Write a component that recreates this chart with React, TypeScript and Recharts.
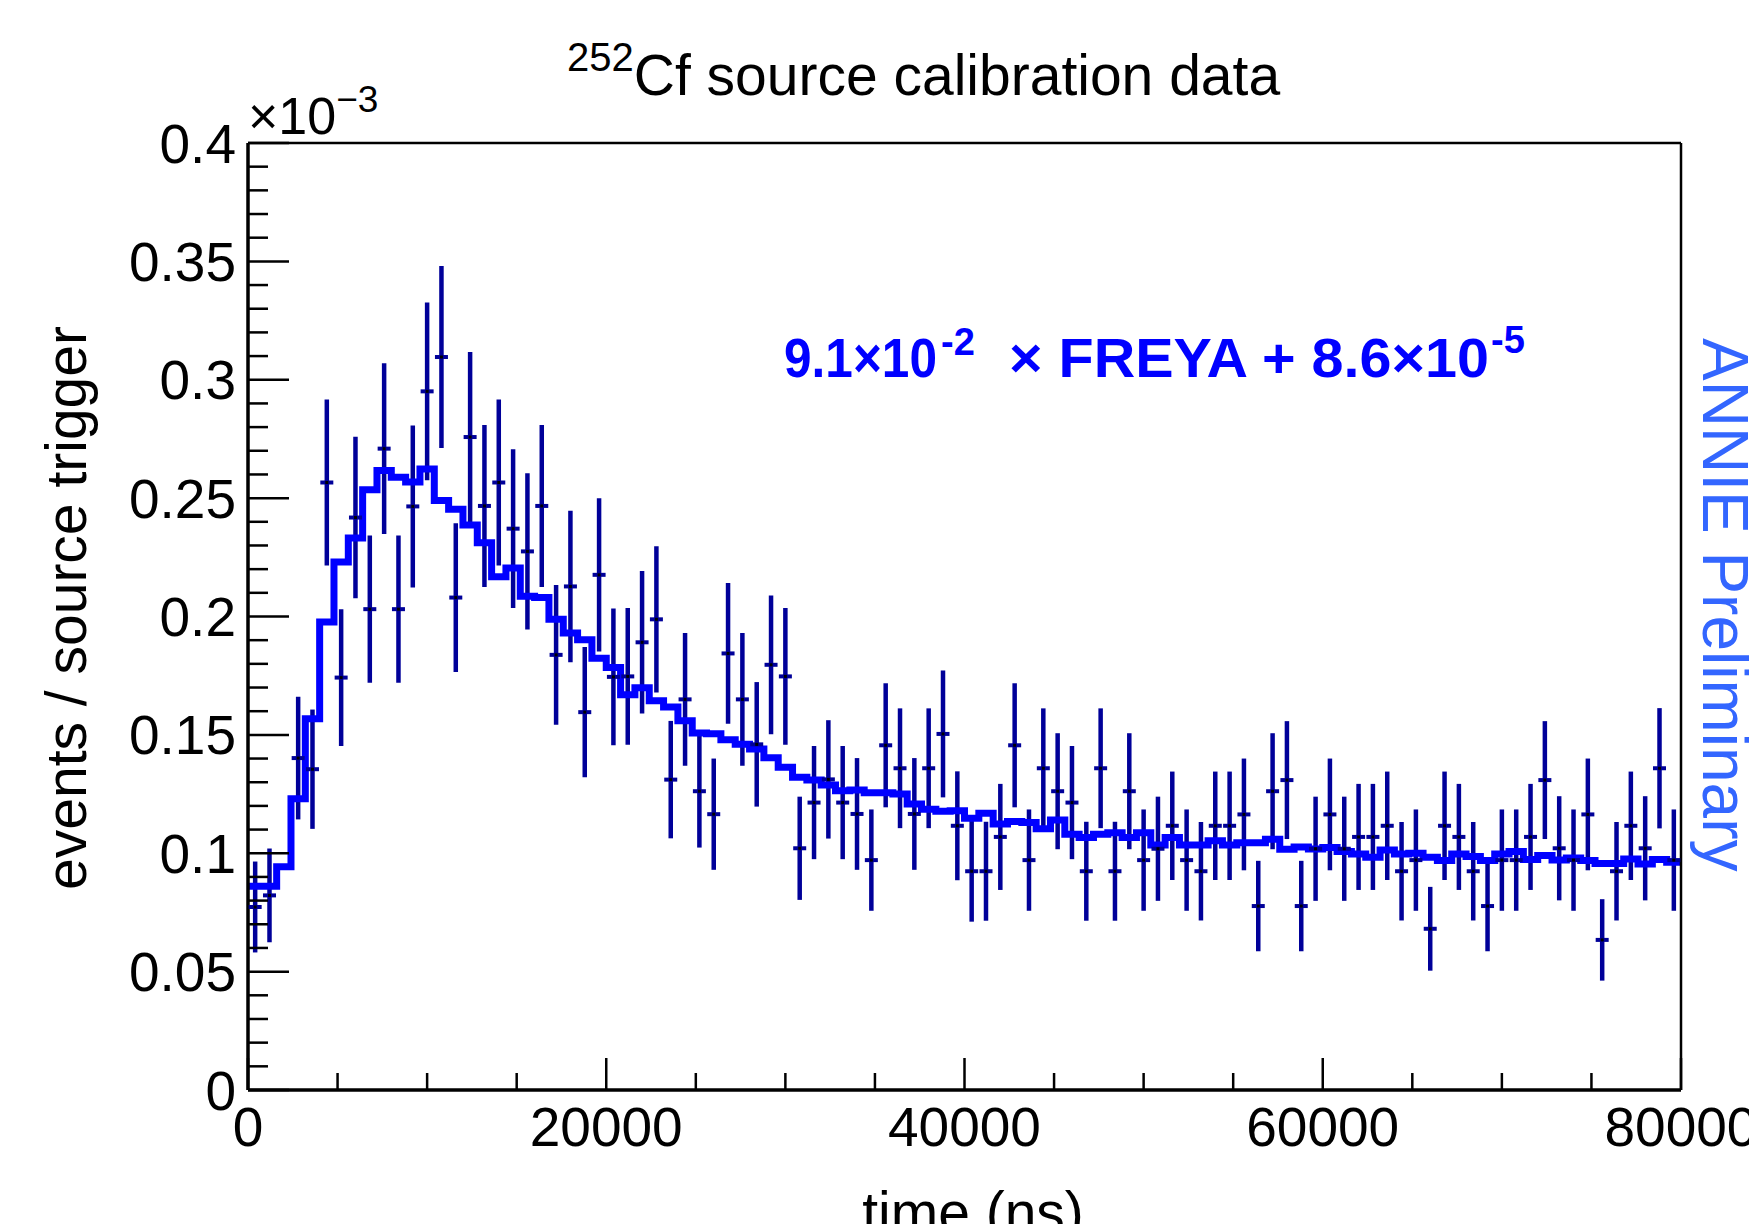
import { ComposedChart, Line, Scatter, XAxis, YAxis, ErrorBar } from "recharts";

const FONT = "'Liberation Sans', Arial, Helvetica, sans-serif";
const BIN_WIDTH = 800;

// FREYA fit (x10^-3), one value per 800 ns bin
const fitValues = [
  0.0861, 0.0861, 0.0943, 0.123, 0.1568, 0.1977, 0.223, 0.2332, 0.2535, 0.2617,
  0.2588, 0.2568, 0.2623, 0.249, 0.2453, 0.2387, 0.2311, 0.2168, 0.2205, 0.2086,
  0.208, 0.1988, 0.193, 0.1902, 0.1824, 0.1785, 0.167, 0.1699, 0.1644, 0.1618,
  0.156, 0.1508, 0.1505, 0.1479, 0.146, 0.144, 0.1403, 0.1363, 0.1321, 0.1309,
  0.1288, 0.1264, 0.1267, 0.1256, 0.1256, 0.125, 0.1208, 0.1186, 0.1177, 0.118,
  0.1148, 0.1169, 0.1124, 0.1134, 0.113, 0.1104, 0.114, 0.108, 0.1067, 0.108,
  0.1087, 0.1067, 0.1087, 0.1035, 0.1067, 0.1035, 0.1035, 0.1053, 0.1035, 0.1044,
  0.1044, 0.1059, 0.1017, 0.1026, 0.1018, 0.1024, 0.1007, 0.0997, 0.0983, 0.1014,
  0.0997, 0.1, 0.0983, 0.0969, 0.0997, 0.0986, 0.0969, 0.0997, 0.1007, 0.0974,
  0.0991, 0.0971, 0.098, 0.0969, 0.0957, 0.0957, 0.0976, 0.0955, 0.0974, 0.0962,
];

// measured data (x10^-3), bin 2 has no point
const dataValues: (number | null)[] = [
  0.0773, 0.0822, null, 0.1402, 0.1355, 0.2566, 0.1742, 0.2418, 0.2031, 0.2709,
  0.2031, 0.2465, 0.2951, 0.3096, 0.208, 0.2758, 0.2467, 0.2566, 0.2371, 0.2275,
  0.2467, 0.1838, 0.2127, 0.1596, 0.2176, 0.1745, 0.1747, 0.1891, 0.1988, 0.1311,
  0.165, 0.1262, 0.1165, 0.1844, 0.165, 0.146, 0.1796, 0.1747, 0.1021, 0.1214,
  0.1312, 0.1214, 0.1166, 0.0971, 0.1456, 0.1359, 0.1166, 0.1359, 0.1504, 0.1116,
  0.0924, 0.0924, 0.1069, 0.1456, 0.0971, 0.1359, 0.1262, 0.1214, 0.0924, 0.1359,
  0.0924, 0.1262, 0.0971, 0.1019, 0.1116, 0.0971, 0.0924, 0.1116, 0.1116, 0.1164,
  0.0777, 0.1262, 0.1309, 0.0777, 0.1019, 0.1164, 0.1019, 0.1069, 0.1069, 0.1116,
  0.0924, 0.0971, 0.0681, 0.1116, 0.1069, 0.0924, 0.0777, 0.0971, 0.0971, 0.1069,
  0.1309, 0.1021, 0.0971, 0.1164, 0.0634, 0.0924, 0.1116, 0.1021, 0.1359, 0.0971,
];

const dataErrors: (number | null)[] = [
  0.0192, 0.0198, null, 0.0259, 0.0252, 0.0351, 0.0289, 0.0341, 0.0311, 0.0361,
  0.0311, 0.0342, 0.0375, 0.0384, 0.0314, 0.0359, 0.0342, 0.0351, 0.0335, 0.033,
  0.0342, 0.0295, 0.032, 0.0275, 0.0324, 0.0289, 0.0289, 0.0301, 0.0309, 0.0248,
  0.028, 0.0238, 0.0235, 0.0297, 0.028, 0.0263, 0.0293, 0.0289, 0.0218, 0.0239,
  0.025, 0.0239, 0.0236, 0.0214, 0.0262, 0.0253, 0.0236, 0.0253, 0.0268, 0.023,
  0.0213, 0.0209, 0.0224, 0.0262, 0.0214, 0.0253, 0.0245, 0.0239, 0.0209, 0.0253,
  0.0209, 0.0245, 0.0214, 0.022, 0.0229, 0.0214, 0.0208, 0.0229, 0.0229, 0.0236,
  0.0191, 0.0245, 0.0249, 0.0191, 0.022, 0.0236, 0.022, 0.0224, 0.0224, 0.0229,
  0.0208, 0.0214, 0.0177, 0.0229, 0.0224, 0.0208, 0.0191, 0.0214, 0.0214, 0.0224,
  0.0249, 0.022, 0.0214, 0.0236, 0.0172, 0.0208, 0.0229, 0.022, 0.0254, 0.0214,
];

const xMajorTicks = [0, 20000, 40000, 60000, 80000];
const xMinorTicks = [5000, 10000, 15000, 25000, 30000, 35000, 45000, 50000, 55000, 65000, 70000, 75000];
const yMajorTicks = [0, 0.05, 0.1, 0.15, 0.2, 0.25, 0.3, 0.35, 0.4];
const yMinorTicks = [
  0.01, 0.02, 0.03, 0.04, 0.06, 0.07, 0.08, 0.09, 0.11, 0.12, 0.13, 0.14,
  0.16, 0.17, 0.18, 0.19, 0.21, 0.22, 0.23, 0.24, 0.26, 0.27, 0.28, 0.29,
  0.31, 0.32, 0.33, 0.34, 0.36, 0.37, 0.38, 0.39,
];

const fitData = [
  ...fitValues.map((y, i) => ({ x: i * BIN_WIDTH, y })),
  { x: fitValues.length * BIN_WIDTH, y: fitValues[fitValues.length - 1] },
];

const pointData = dataValues
  .map((y, i) => (y == null ? null : { x: (i + 0.5) * BIN_WIDTH, y, err: dataErrors[i] }))
  .filter((d) => d != null);

const tickLineStyle = { stroke: "#000", strokeWidth: 2.5 };
const labelStyle = { fontSize: 55, fill: "#000", fontFamily: FONT };
const noLabel = () => <g />;

// horizontal bar + small dot, like the ROOT marker
const PointMark = (props: any) => {
  const { cx, cy } = props;
  return (
    <g>
      <rect x={cx - 6.5} y={cy - 2} width={13} height={4} fill="#000099" />
      <rect x={cx - 1.5} y={cy - 1.5} width={3} height={3} fill="#000" />
    </g>
  );
};

export default function App() {
  return (
    <div style={{ position: "absolute", left: 0, top: 0, width: 1749, height: 1224, background: "#fff" }}>
      {/* axes need a size > 0 to be drawn, so each one takes 1px of the margin */}
      <ComposedChart width={1749} height={1224} margin={{ top: 142, left: 246, right: 67, bottom: 132 }}>
        <XAxis
          xAxisId="x"
          dataKey="x"
          type="number"
          domain={[0, 80000]}
          allowDataOverflow
          ticks={xMajorTicks}
          interval={0}
          height={1}
          tickSize={-32}
          tickMargin={49}
          tick={labelStyle}
          tickLine={tickLineStyle}
          axisLine={{ stroke: "#000", strokeWidth: 3.5 }}
        />
        <XAxis
          xAxisId="xm"
          dataKey="x"
          type="number"
          domain={[0, 80000]}
          allowDataOverflow
          ticks={xMinorTicks}
          interval={0}
          height={1}
          tickSize={-18}
          tick={noLabel}
          tickLine={tickLineStyle}
          axisLine={false}
        />
        <XAxis
          xAxisId="top"
          orientation="top"
          type="number"
          domain={[0, 80000]}
          height={1}
          tick={false}
          tickLine={false}
          axisLine={{ stroke: "#000", strokeWidth: 2.5 }}
        />
        <YAxis
          yAxisId="y"
          dataKey="y"
          type="number"
          domain={[0, 0.4]}
          allowDataOverflow
          ticks={yMajorTicks}
          interval={0}
          width={1}
          tickSize={-41}
          tickMargin={53}
          tick={labelStyle}
          tickLine={tickLineStyle}
          axisLine={{ stroke: "#000", strokeWidth: 3.5 }}
        />
        <YAxis
          yAxisId="ym"
          dataKey="y"
          type="number"
          domain={[0, 0.4]}
          allowDataOverflow
          ticks={yMinorTicks}
          interval={0}
          width={1}
          tickSize={-21}
          tick={noLabel}
          tickLine={tickLineStyle}
          axisLine={false}
        />
        <YAxis
          yAxisId="right"
          orientation="right"
          type="number"
          domain={[0, 0.4]}
          width={1}
          tick={false}
          tickLine={false}
          axisLine={{ stroke: "#000", strokeWidth: 2.5 }}
        />
        {/* invisible series so the minor-tick axes get a scale */}
        <Line
          xAxisId="xm"
          yAxisId="ym"
          data={fitData}
          dataKey="y"
          stroke="none"
          dot={false}
          activeDot={false}
          isAnimationActive={false}
        />
        <Scatter
          xAxisId="x"
          yAxisId="y"
          data={pointData}
          dataKey="y"
          shape={<PointMark />}
          isAnimationActive={false}
        >
          <ErrorBar dataKey="err" direction="y" width={0} stroke="#000099" strokeWidth={4.5} />
        </Scatter>
        <Line
          xAxisId="x"
          yAxisId="y"
          data={fitData}
          dataKey="y"
          type="stepAfter"
          stroke="#0000ff"
          strokeWidth={7}
          strokeLinejoin="miter"
          dot={false}
          isAnimationActive={false}
        />
      </ComposedChart>
      <svg
        width={1749}
        height={1224}
        style={{ position: "absolute", left: 0, top: 0, pointerEvents: "none" }}
        fontFamily={FONT}
      >
        <text x={567} y={95} fontSize={57} fill="#000">
          <tspan fontSize={40} dy={-24}>252</tspan>
          <tspan dy={24}>Cf source calibration data</tspan>
        </text>
        <text x={248} y={134} fontSize={52} fill="#000">
          <tspan>×10</tspan>
          <tspan fontSize={37} dy={-22}>−3</tspan>
        </text>
        <text transform="translate(86,608) rotate(-90)" textAnchor="middle" fontSize={57} fill="#000">
          events / source trigger
        </text>
        <text x={973} y={1232} textAnchor="middle" fontSize={57} fill="#000">
          time (ns)
        </text>
        <text transform="translate(1703,338) rotate(90)" fontSize={64} fill="#3366ff">
          ANNIE Preliminary
        </text>
        <text y={377} fontSize={56} fontWeight="bold" fill="#0000ff">
          <tspan x={784} textLength={153} lengthAdjust="spacingAndGlyphs">9.1×10</tspan>
          <tspan x={941} dy={-22} fontSize={38}>-2</tspan>
          <tspan x={1009} dy={22} textLength={480} lengthAdjust="spacingAndGlyphs">× FREYA + 8.6×10</tspan>
          <tspan x={1491} dy={-24} fontSize={38}>-5</tspan>
        </text>
      </svg>
    </div>
  );
}
